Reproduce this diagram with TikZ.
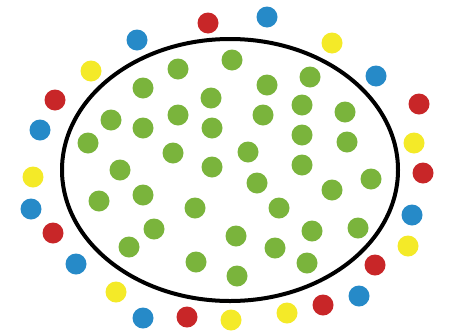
\documentclass[tikz,border=0pt]{standalone}
\definecolor{dotgreen}{RGB}{122,180,60}
\definecolor{dotred}{RGB}{200,38,40}
\definecolor{dotblue}{RGB}{38,138,200}
\definecolor{dotyellow}{RGB}{244,234,40}
\tikzset{
  gdot/.style={fill=dotgreen},
  rdot/.style={fill=dotred},
  bdot/.style={fill=dotblue},
  ydot/.style={fill=dotyellow},
  rim/.style={draw=black,line width=4pt}
}
\begin{document}
\begin{tikzpicture}[x=1pt,y=-1pt]
\useasboundingbox (0,0) rectangle (465,335);
\fill[white] (0,0) rectangle (465,335);
% green dots inside
\foreach \x/\y in {178/69,232/60,310/77,143/88,267/85,211/98,302/105,111/120,178/115,263/115,345/112,143/128,212/128,302/135,347/142,88/143,173/153,248/152,120/170,212/167,302/165,257/183,371/179,332/190,99/201,143/195,195/208,279/208,154/229,236/236,312/231,358/228,129/247,275/248,196/262,307/263,237/276}
  \fill[gdot] (\x,\y) circle (10.5);
% boundary
\draw[rim] (230,170) ellipse (168 and 131);
% outer dots
\foreach \x/\y in {208/23,55/100,419/104,423/173,53/233,375/265,323/305,187/317}
  \fill[rdot] (\x,\y) circle (10.5);
\foreach \x/\y in {267/17,137/40,376/76,40/130,31/209,412/215,76/264,359/296,143/318}
  \fill[bdot] (\x,\y) circle (10.5);
\foreach \x/\y in {332/43,91/71,414/143,33/177,408/246,116/292,287/313,231/320}
  \fill[ydot] (\x,\y) circle (10.5);
\end{tikzpicture}
\end{document}
